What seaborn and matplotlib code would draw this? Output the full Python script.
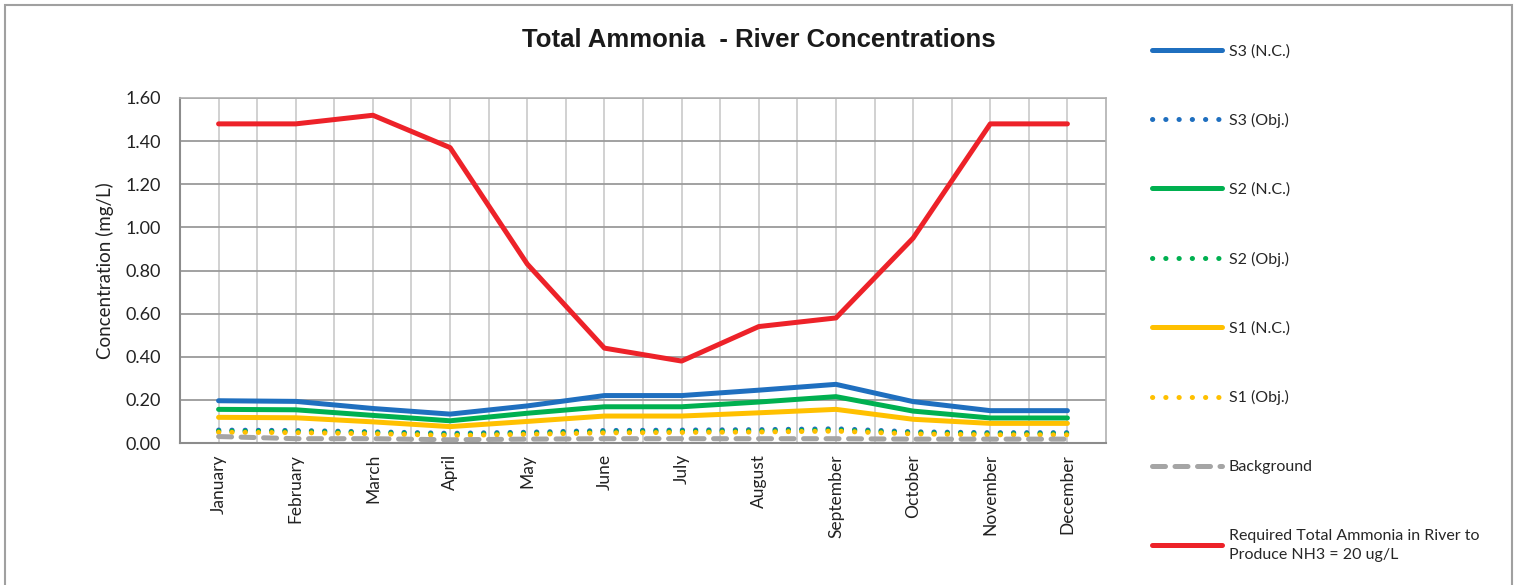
import numpy as np
import pandas as pd
import matplotlib
matplotlib.use("Agg")
import matplotlib.pyplot as plt
import seaborn as sns
from matplotlib.patches import Rectangle

months = ['January', 'February', 'March', 'April', 'May', 'June', 'July',
          'August', 'September', 'October', 'November', 'December']

s3_nc = [0.196, 0.193, 0.160, 0.134, 0.172, 0.220, 0.220, 0.245, 0.272, 0.192, 0.150, 0.150]
s3_obj = [0.060, 0.058, 0.052, 0.045, 0.050, 0.058, 0.060, 0.062, 0.066, 0.052, 0.048, 0.048]
s2_nc = [0.156, 0.154, 0.128, 0.103, 0.138, 0.168, 0.168, 0.190, 0.215, 0.148, 0.116, 0.116]
s2_obj = [0.055, 0.053, 0.048, 0.040, 0.045, 0.052, 0.054, 0.056, 0.060, 0.047, 0.043, 0.043]
s1_nc = [0.119, 0.117, 0.098, 0.076, 0.100, 0.125, 0.125, 0.140, 0.156, 0.110, 0.091, 0.091]
s1_obj = [0.050, 0.048, 0.043, 0.035, 0.040, 0.047, 0.049, 0.051, 0.055, 0.042, 0.038, 0.038]
background = [0.030, 0.020, 0.020, 0.015, 0.018, 0.020, 0.020, 0.020, 0.020, 0.018, 0.018, 0.018]
required = [1.48, 1.48, 1.52, 1.37, 0.83, 0.44, 0.38, 0.54, 0.58, 0.95, 1.48, 1.48]

yticks = [0.0, 0.2, 0.4, 0.6, 0.8, 1.0, 1.2, 1.4, 1.6]

sns.set_theme(style="white")
plt.rcParams['font.family'] = ['Lato', 'DejaVu Sans']

fig = plt.figure(figsize=(15.17, 5.85), dpi=100)
ax = fig.add_axes([180/1517, 1-443/585, (1106-180)/1517, (443-98)/585])

dot = (0, (0.05, 2.6))
dash = (0, (2.6, 1.9))
series = [
    ('S3 (N.C.)', s3_nc, '#1F6FBF', '-'),
    ('S3 (Obj.)', s3_obj, '#1F6FBF', dot),
    ('S2 (N.C.)', s2_nc, '#00B050', '-'),
    ('S2 (Obj.)', s2_obj, '#00B050', dot),
    ('S1 (N.C.)', s1_nc, '#FFC000', '-'),
    ('S1 (Obj.)', s1_obj, '#FFC000', dot),
    ('Background', background, '#A5A5A5', dash),
    ('Required Total Ammonia in River to\nProduce NH3 = 20 ug/L', required, '#ED2229', '-'),
]

x = np.arange(len(months))
handles = []
for i, (label, vals, color, ls) in enumerate(series):
    sns.lineplot(x=x, y=vals, ax=ax, color=color, linewidth=3.6, label=label,
                 zorder=3 + i * 0.1)
    line = ax.lines[-1]
    line.set_linestyle(ls)
    line.set_solid_capstyle('round')
    line.set_dash_capstyle('round')
    line.set_solid_joinstyle('round')
    handles.append(line)

ax.get_legend().remove()

ax.set_xlim(-0.5, 11.5)
ax.set_ylim(0, 1.6)
ax.set_yticks(yticks)
ax.set_yticklabels([f'{v:.2f}' for v in yticks], fontsize=13, color='#222222')
ax.set_xticks(x)
ax.set_xticklabels(months, rotation=90, fontsize=12.5, color='#222222')
ax.set_xticks(x[:-1] + 0.5, minor=True)
ax.tick_params(axis='x', which='both', length=0, pad=8)
ax.tick_params(axis='y', which='both', length=0, pad=14)
ax.grid(axis='y', which='major', color='#9A9A9A', linewidth=1.3, zorder=1)
ax.grid(axis='x', which='both', color='#C9C9C9', linewidth=1.2, zorder=1)
ax.set_axisbelow(True)
for side in ['top', 'right']:
    ax.spines[side].set_color('#B0B0B0')
    ax.spines[side].set_linewidth(1.2)
for side in ['left', 'bottom']:
    ax.spines[side].set_color('#8C8C8C')
    ax.spines[side].set_linewidth(1.5)
ax.set_ylabel('Concentration (mg/L)', fontsize=13.5, color='#222222', labelpad=8)
ax.set_xlabel('')

fig.text(759/1517, 1-40/585, 'Total Ammonia  - River Concentrations',
         family=['Liberation Sans', 'DejaVu Sans'], fontweight='bold',
         fontsize=18.5, ha='center', va='center', color='#1A1A1A')

leg = fig.legend(handles=handles, labels=[s[0] for s in series],
                 loc='upper left', bbox_to_anchor=(1152/1517, 1-44/585),
                 frameon=False, fontsize=11.5, handlelength=4.4, handletextpad=0.4,
                 labelspacing=3.42, borderaxespad=0, borderpad=0)
for t in leg.get_texts():
    t.set_linespacing(1.45)

fig.patches.append(Rectangle((5/1517, -0.05), 1507/1517, 1.05 - 5/585,
                             transform=fig.transFigure, fill=False,
                             edgecolor='#A0A0A0', linewidth=1.5))

fig.savefig('out.png', dpi=100)
